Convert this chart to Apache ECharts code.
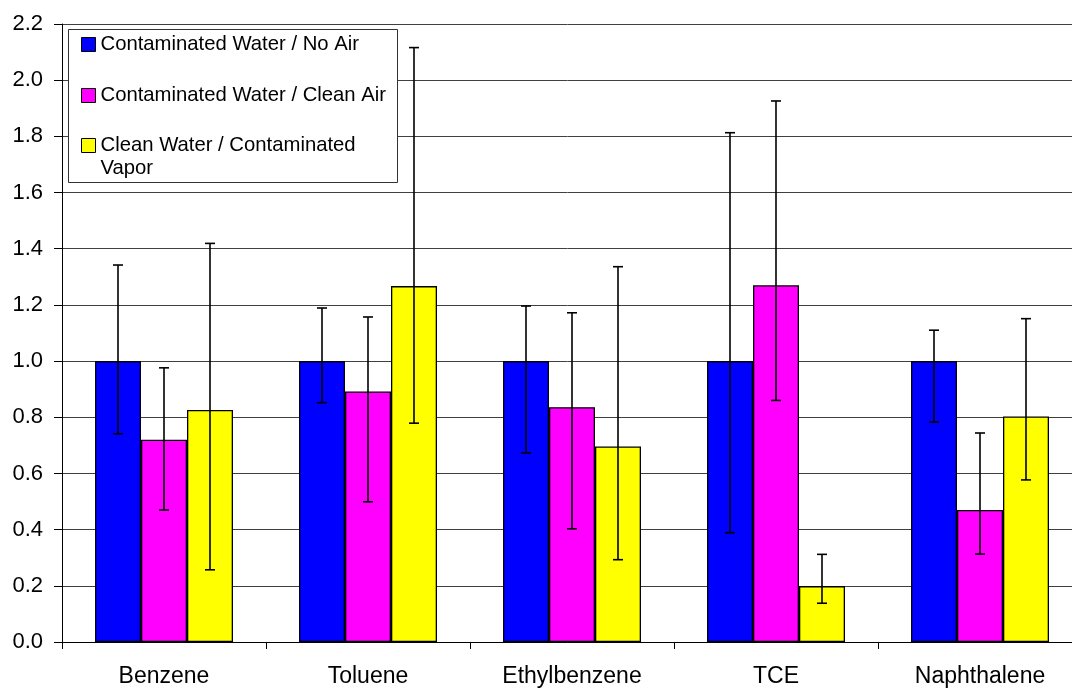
<!DOCTYPE html>
<html>
<head>
<meta charset="utf-8">
<script src="https://cdn.jsdelivr.net/npm/echarts@6/dist/echarts.min.js"></script>
<style>
html,body{margin:0;padding:0;background:#fff;}
#chart{width:1072px;height:688px;}
</style>
</head>
<body>
<div id="chart"></div>
<script>
// ---- Data ----
const categories = ['Benzene', 'Toluene', 'Ethylbenzene', 'TCE', 'Naphthalene'];
const seriesNames = ['Contaminated Water / No Air', 'Contaminated Water / Clean Air', 'Clean Water / Contaminated Vapor'];

const noAir      = [1.0, 1.0, 1.0, 1.0, 1.0];
const noAirLow   = [0.741, 0.852, 0.673, 0.389, 0.783];
const noAirHigh  = [1.342, 1.189, 1.196, 1.813, 1.110];

const cleanAir     = [0.720, 0.892, 0.836, 1.270, 0.470];
const cleanAirLow  = [0.470, 0.499, 0.403, 0.860, 0.313];
const cleanAirHigh = [0.976, 1.157, 1.172, 1.926, 0.744];

const vapor     = [0.826, 1.267, 0.696, 0.199, 0.803];
const vaporLow  = [0.257, 0.779, 0.293, 0.138, 0.577];
const vaporHigh = [1.419, 2.116, 1.336, 0.312, 1.151];

const yTicks = ['0.0','0.2','0.4','0.6','0.8','1.0','1.2','1.4','1.6','1.8','2.0','2.2'];

// ---- Styling ----
const colors = ['#0000FF', '#FF00FF', '#FFFF00'];
const FONT = '"Liberation Sans", Arial, sans-serif';
const BAR_W = 46;

function barSeries(name, data, color) {
  return {
    name: name, type: 'bar', data: data, barWidth: BAR_W, barGap: '0%',
    itemStyle: { color: color, borderColor: '#000', borderWidth: 1.3 },
    z: 2
  };
}
function errSeries(name, lows, highs, offsetIndex) {
  return {
    name: name, type: 'custom', z: 5,
    data: lows.map((lo, i) => [i, lo, highs[i]]),
    encode: { x: 0, y: [1, 2] },
    renderItem: function (params, api) {
      const idx = api.value(0);
      const pLo = api.coord([idx, api.value(1)]);
      const pHi = api.coord([idx, api.value(2)]);
      const cx = pLo[0] + offsetIndex * BAR_W;
      const st = { stroke: '#000', lineWidth: 1.6 };
      return {
        type: 'group',
        children: [
          { type: 'line', shape: { x1: cx, y1: pHi[1], x2: cx, y2: pLo[1] }, style: st },
          { type: 'line', shape: { x1: cx - 5, y1: pHi[1], x2: cx + 5, y2: pHi[1] }, style: st },
          { type: 'line', shape: { x1: cx - 5, y1: pLo[1], x2: cx + 5, y2: pLo[1] }, style: st }
        ]
      };
    }
  };
}

const legendBase = {
  orient: 'vertical', padding: 0, itemWidth: 14, itemHeight: 14, icon: 'rect',
  itemStyle: { borderColor: '#000', borderWidth: 1 },
  textStyle: { fontFamily: FONT, fontSize: 20.3, color: '#000', lineHeight: 23 },
  z: 6
};

const chart = echarts.init(document.getElementById('chart'));
chart.setOption({
  animation: false,
  backgroundColor: '#fff',
  grid: { left: 62, top: 24, bottom: 46, right: -10, outerBoundsMode: 'none', containLabel: false },
  xAxis: {
    type: 'category', data: categories,
    axisLine: { lineStyle: { color: '#000', width: 1 } },
    axisTick: { show: true, length: 7, lineStyle: { color: '#000' } },
    axisLabel: { fontFamily: FONT, fontSize: 23, color: '#000', margin: 23 }
  },
  yAxis: {
    type: 'value', min: 0, max: 2.2, interval: 0.2,
    axisLine: { show: true, lineStyle: { color: '#000', width: 1 } },
    axisTick: { show: true, length: 8, lineStyle: { color: '#000' } },
    axisLabel: {
      fontFamily: FONT, fontSize: 22, color: '#000', margin: 19,
      formatter: function (v) { return yTicks[Math.round(v / 0.2)]; }
    },
    splitLine: { show: true, lineStyle: { color: '#404040', width: 1 } }
  },
  graphic: [{
    type: 'rect', z: 5,
    shape: { x: 68.5, y: 29.5, width: 329, height: 153 },
    style: { fill: '#fff', stroke: '#333', lineWidth: 1 }
  }],
  legend: [
    Object.assign({}, legendBase, { left: 81, top: 33, data: [seriesNames[0]] }),
    Object.assign({}, legendBase, { left: 81, top: 84, data: [seriesNames[1]] }),
    Object.assign({}, legendBase, {
      left: 81, top: 111,
      data: [seriesNames[2]],
      formatter: function () { return '\nClean Water / Contaminated\nVapor'; }
    })
  ],
  series: [
    barSeries(seriesNames[0], noAir, colors[0]),
    barSeries(seriesNames[1], cleanAir, colors[1]),
    barSeries(seriesNames[2], vapor, colors[2]),
    errSeries(seriesNames[0], noAirLow, noAirHigh, -1),
    errSeries(seriesNames[1], cleanAirLow, cleanAirHigh, 0),
    errSeries(seriesNames[2], vaporLow, vaporHigh, 1)
  ]
});
</script>
</body>
</html>
